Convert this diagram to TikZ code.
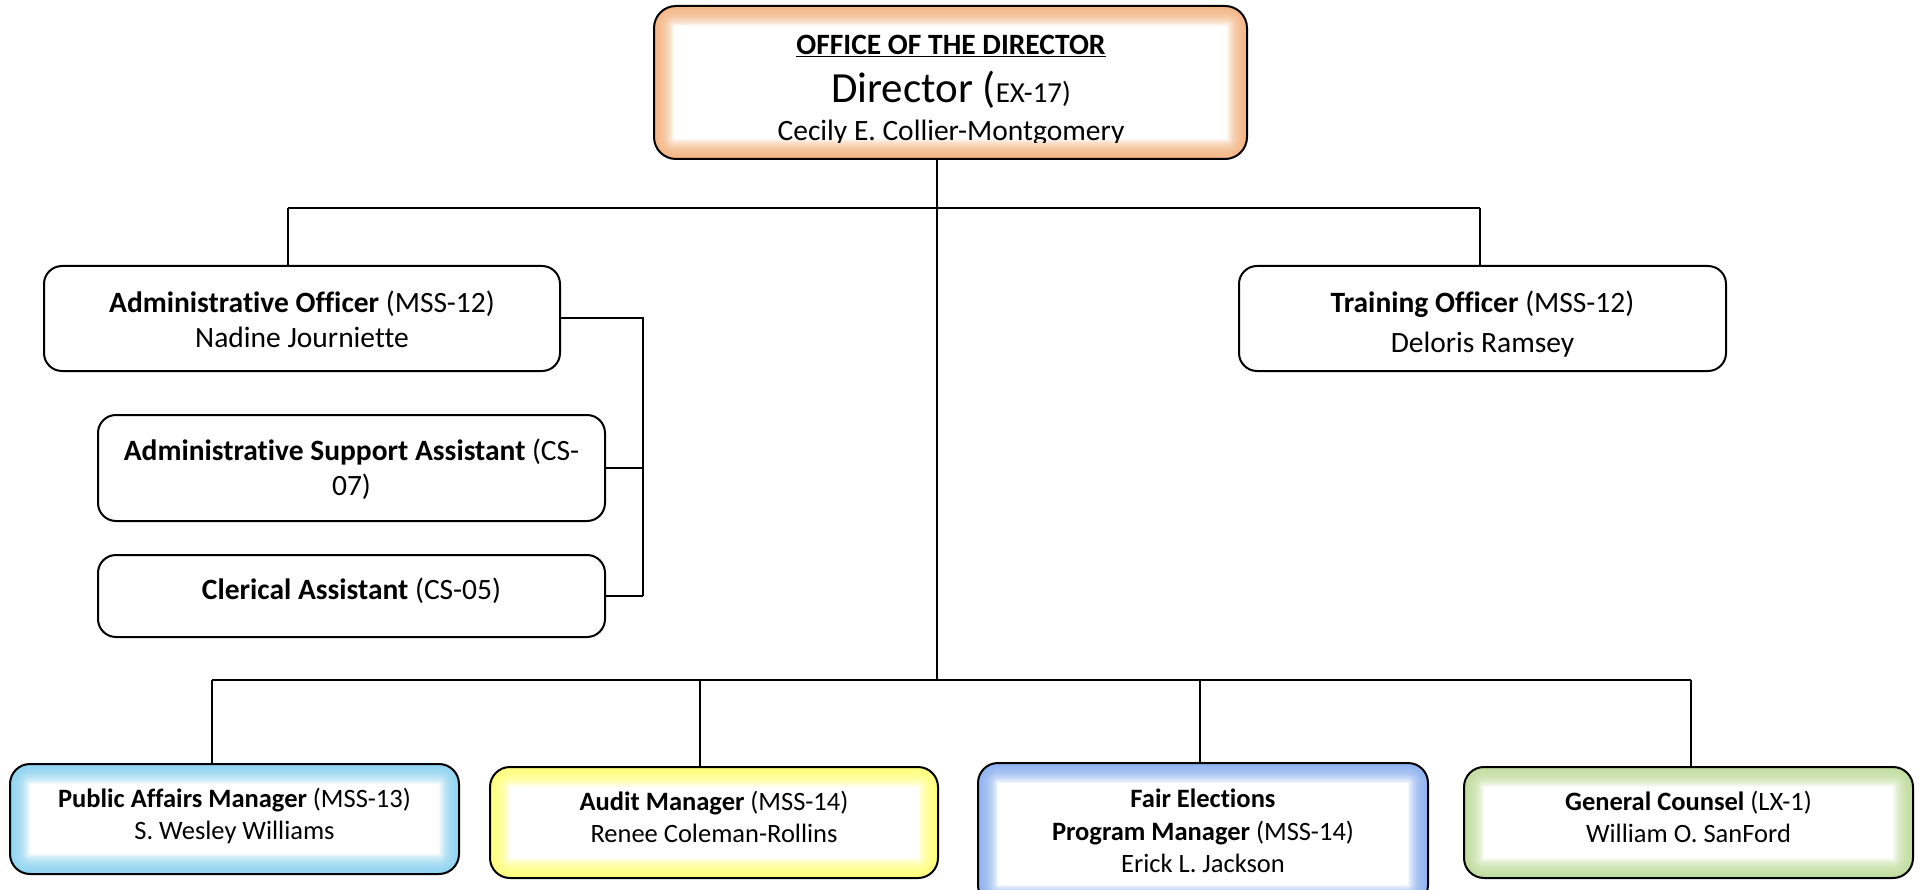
\documentclass[tikz,border=0pt]{standalone}
\usepackage{fontspec}
\setmainfont{Carlito}[Ligatures=NoCommon]
\begin{document}
\begin{tikzpicture}[x=1pt,y=-1pt,
  box/.style={draw=black, line width=2, rectangle, rounded corners=18, fill=white,
    inner sep=0pt},
  glow/.style={path picture={
    \foreach \w in {2,4,...,40}
      \draw[#1, opacity=0.1, line width=\w, rounded corners=20]
        (path picture bounding box.south west) rectangle (path picture bounding box.north east);}},
  bar/.style={line width=2.2},
  link/.style={line width=1.3},
  txt/.style={anchor=base, inner sep=0pt, font=\fontsize{29.5}{35}\selectfont},
  stxt/.style={anchor=base, inner sep=0pt, font=\fontsize{26.5}{32}\selectfont}]
\definecolor{glowOrange}{HTML}{F5B27A}
\definecolor{glowCyan}{HTML}{86D3F2}
\definecolor{glowYellow}{HTML}{FFFF70}
\definecolor{glowBlue}{HTML}{86AEF2}
\definecolor{glowGreen}{HTML}{BEDD98}

\useasboundingbox (0,0) rectangle (1921,890);

% ---- director ----
\node[box, rounded corners=22, glow=glowOrange, minimum width=593, minimum height=153] (dir) at (950.5,82.5) {};
\node[txt, font=\fontsize{29.5}{35}\selectfont\bfseries] (dirhead) at (951,54.5) {\underline{OFFICE OF THE DIRECTOR}};
\node[txt] (dirtitle) at (951,102.5)
  {\fontsize{43}{48}\selectfont Director (\fontsize{29}{35}\selectfont EX-17)};
\begin{scope}
  \clip (700,112) rectangle (1200,142.5);
  \node[txt] (dirname) at (951,140.5) {Cecily E. Collier-Montgomery};
\end{scope}

% ---- second row ----
\node[box, minimum width=516, minimum height=105] (ao) at (302,318.5) {};
\node[txt] (ao1) at (302,313) {\textbf{Administrative Officer} (MSS-12)};
\node[txt] (ao2) at (302,347.5) {Nadine Journiette};

\node[box, minimum width=487, minimum height=105] (to) at (1482.5,318.5) {};
\node[txt] (to1) at (1482.5,312.5) {\textbf{Training Officer} (MSS-12)};
\node[txt] (to2) at (1482.5,352.5) {Deloris Ramsey};

\node[box, minimum width=507, minimum height=106] (asa) at (351.5,468) {};
\node[txt] (asa1) at (351.5,460) {\textbf{Administrative Support Assistant} (CS-};
\node[txt] (asa2) at (351.5,495) {07)};

\node[box, minimum width=507, minimum height=82] (ca) at (351.5,596) {};
\node[txt] (ca1) at (351.5,599) {\textbf{Clerical Assistant} (CS-05)};

% ---- bottom row ----
\node[box, glow=glowCyan, rounded corners=20, minimum width=449, minimum height=110] (pam) at (234.5,819) {};
\node[stxt] (pam1) at (234.5,807.5) {\textbf{Public Affairs Manager} (MSS-13)};
\node[stxt] (pam2) at (234.5,839.5) {S. Wesley Williams};

\node[box, glow=glowYellow, rounded corners=20, minimum width=448, minimum height=111] (aud) at (714,822.5) {};
\node[stxt] (aud1) at (714,810) {\textbf{Audit Manager} (MSS-14)};
\node[stxt] (aud2) at (714,842) {Renee Coleman-Rollins};

\node[box, glow=glowBlue, rounded corners=20, minimum width=450, minimum height=142] (fe) at (1203,834) {};
\node[stxt] (fe1) at (1203,807.5) {\textbf{Fair Elections}};
\node[stxt] (fe2) at (1203,840) {\textbf{Program Manager} (MSS-14)};
\node[stxt] (fe3) at (1203,872.5) {Erick L. Jackson};

\node[box, glow=glowGreen, rounded corners=20, minimum width=449, minimum height=111] (gc) at (1688.5,822.5) {};
\node[stxt] (gc1) at (1688.5,810) {\textbf{General Counsel} (LX-1)};
\node[stxt] (gc2) at (1688.5,842) {William O. SanFord};

% ---- connectors ----
\coordinate (spine) at (937,680);
\coordinate (upL) at (288,208);
\coordinate (upR) at (1480,208);
\coordinate (lowL) at (212,680);
\coordinate (lowR) at (1691,680);
\coordinate (dropAud) at (700,680);
\coordinate (dropFe) at (1200,680);
\coordinate (brk) at (643,318);

\draw[link] (spine |- dir.south) -- (spine);
\draw[bar] (upL) -- (upR);
\draw[link] (upL) -- (upL |- ao.north);
\draw[link] (upR) -- (upR |- to.north);
\draw[bar] (lowL) -- (lowR);
\draw[link] (lowL) -- (lowL |- pam.north);
\draw[link] (dropAud) -- (dropAud |- aud.north);
\draw[link] (dropFe) -- (dropFe |- fe.north);
\draw[link] (lowR) -- (lowR |- gc.north);

\draw[link] (ao.east |- brk) -- (brk) -- (brk |- ca.east);
\draw[link] (asa.east) -- (asa.east -| brk);
\draw[link] (ca.east) -- (ca.east -| brk);
\end{tikzpicture}
\end{document}
